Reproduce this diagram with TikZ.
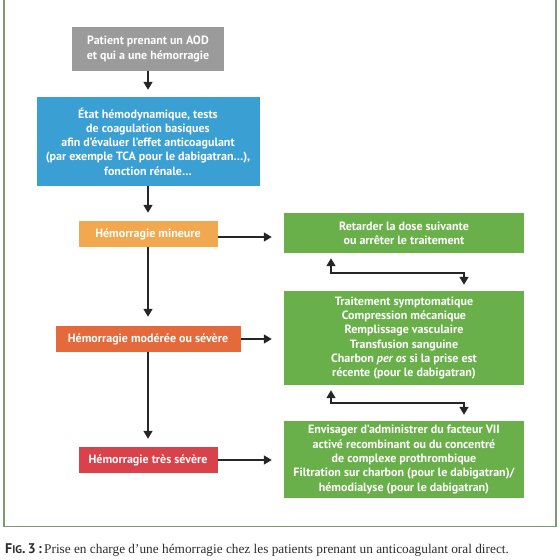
\documentclass[tikz,border=0pt]{standalone}
\usepackage{fontspec}
\setsansfont{PT Sans}
\setmainfont{Liberation Serif}
\usetikzlibrary{arrows.meta,calc}
\definecolor{cgray}{HTML}{9B9B9B}
\definecolor{cblue}{HTML}{3A9FD2}
\definecolor{corange}{HTML}{F1A84F}
\definecolor{cmod}{HTML}{E46A3C}
\definecolor{cred}{HTML}{D9414B}
\definecolor{cgreen}{HTML}{6AB04A}
\definecolor{cframe}{HTML}{7E9A70}
\definecolor{ccap}{HTML}{2B2B2B}
\tikzset{
  box/.style={rectangle, inner sep=0pt, text=white, align=center,
    font=\sffamily\bfseries\fontsize{12}{14.3}\selectfont},
  arr/.style={line width=1.6pt, draw=black!85, -{Triangle[length=8pt,width=9pt]}},
  biarr/.style={line width=1.6pt, draw=black!85, {Triangle[length=8pt,width=9pt]}-{Triangle[length=8pt,width=9pt]}}
}
\begin{document}
\begin{tikzpicture}[x=1pt,y=-1pt]
\useasboundingbox (0,0) rectangle (560,560);
\draw[cframe, line width=1.6pt] (4,-10) rectangle (556,526.5);

\node[box, fill=cgray, minimum width=152pt, minimum height=44pt] (gray) at (148,49)
  {Patient prenant un AOD\\et qui a une hémorragie};
\node[box, fill=cblue, minimum width=223pt, minimum height=89pt] (blue) at (148,141.5)
  {État hémodynamique, tests\\de coagulation basiques\\afin d’évaluer l’effet anticoagulant\\(par exemple TCA pour le dabigatran…),\\fonction rénale…};
\node[box, fill=corange, minimum width=139pt, minimum height=26pt] (mineure) at (148,234)
  {Hémorragie mineure};
\node[box, fill=cmod, minimum width=185pt, minimum height=26pt] (moderee) at (148,339)
  {Hémorragie modérée ou sévère};
\node[box, fill=cred, minimum width=139pt, minimum height=26pt] (severe) at (148,460)
  {Hémorragie très sévère};

\node[box, fill=cgreen, minimum width=240pt, minimum height=40pt] (g1) at (404,233)
  {Retarder la dose suivante\\ou arrêter le traitement};
\node[box, fill=cgreen, minimum width=240pt, minimum height=94pt] (g2) at (404,338)
  {Traitement symptomatique\\Compression mécanique\\Remplissage vasculaire\\Transfusion sanguine\\Charbon \textit{per os} si la prise est\\récente (pour le dabigatran)};
\node[box, fill=cgreen, minimum width=240pt, minimum height=77pt] (g3) at (404,459.5)
  {Envisager d’administrer du facteur VII\\activé recombinant ou du concentré\\de complexe prothrombique\\Filtration sur charbon (pour le dabigatran)/\\hémodialyse (pour le dabigatran)};

\draw[arr, shorten >=7pt] (gray) -- (blue);
\draw[arr, shorten >=8pt] (blue) -- (mineure);
\draw[arr, shorten >=9pt] (mineure) -- (moderee);
\draw[arr, shorten >=8pt] (moderee) -- (severe);

\draw[arr, shorten >=12pt] ([yshift=-3pt]mineure.east) -- ([yshift=-3pt]mineure.east -| g1.west);
\draw[arr, shorten >=12pt] (moderee.east) -- (moderee.east -| g2.west);
\draw[arr, shorten >=12pt] (severe.east) -- (severe.east -| g3.west);

\draw[biarr, shorten <=5pt, shorten >=6pt] ([xshift=-73pt]g1.south) -- ++(0,20) -| ([xshift=60pt]g2.north);
\draw[biarr, shorten <=5pt, shorten >=6pt] ([xshift=-73pt]g2.south) -- ++(0,18) -| ([xshift=60pt]g3.north);

\node[anchor=west, inner sep=0pt, text=ccap, font=\fontsize{13.3}{15}\selectfont] (cap) at (5,550)
  {{\sffamily\bfseries\fontsize{14}{15}\selectfont F{\fontsize{11}{12}\selectfont IG}.\,3\,:}\,Prise en charge d’une hémorragie chez les patients prenant un anticoagulant oral direct.};
\end{tikzpicture}
\end{document}
